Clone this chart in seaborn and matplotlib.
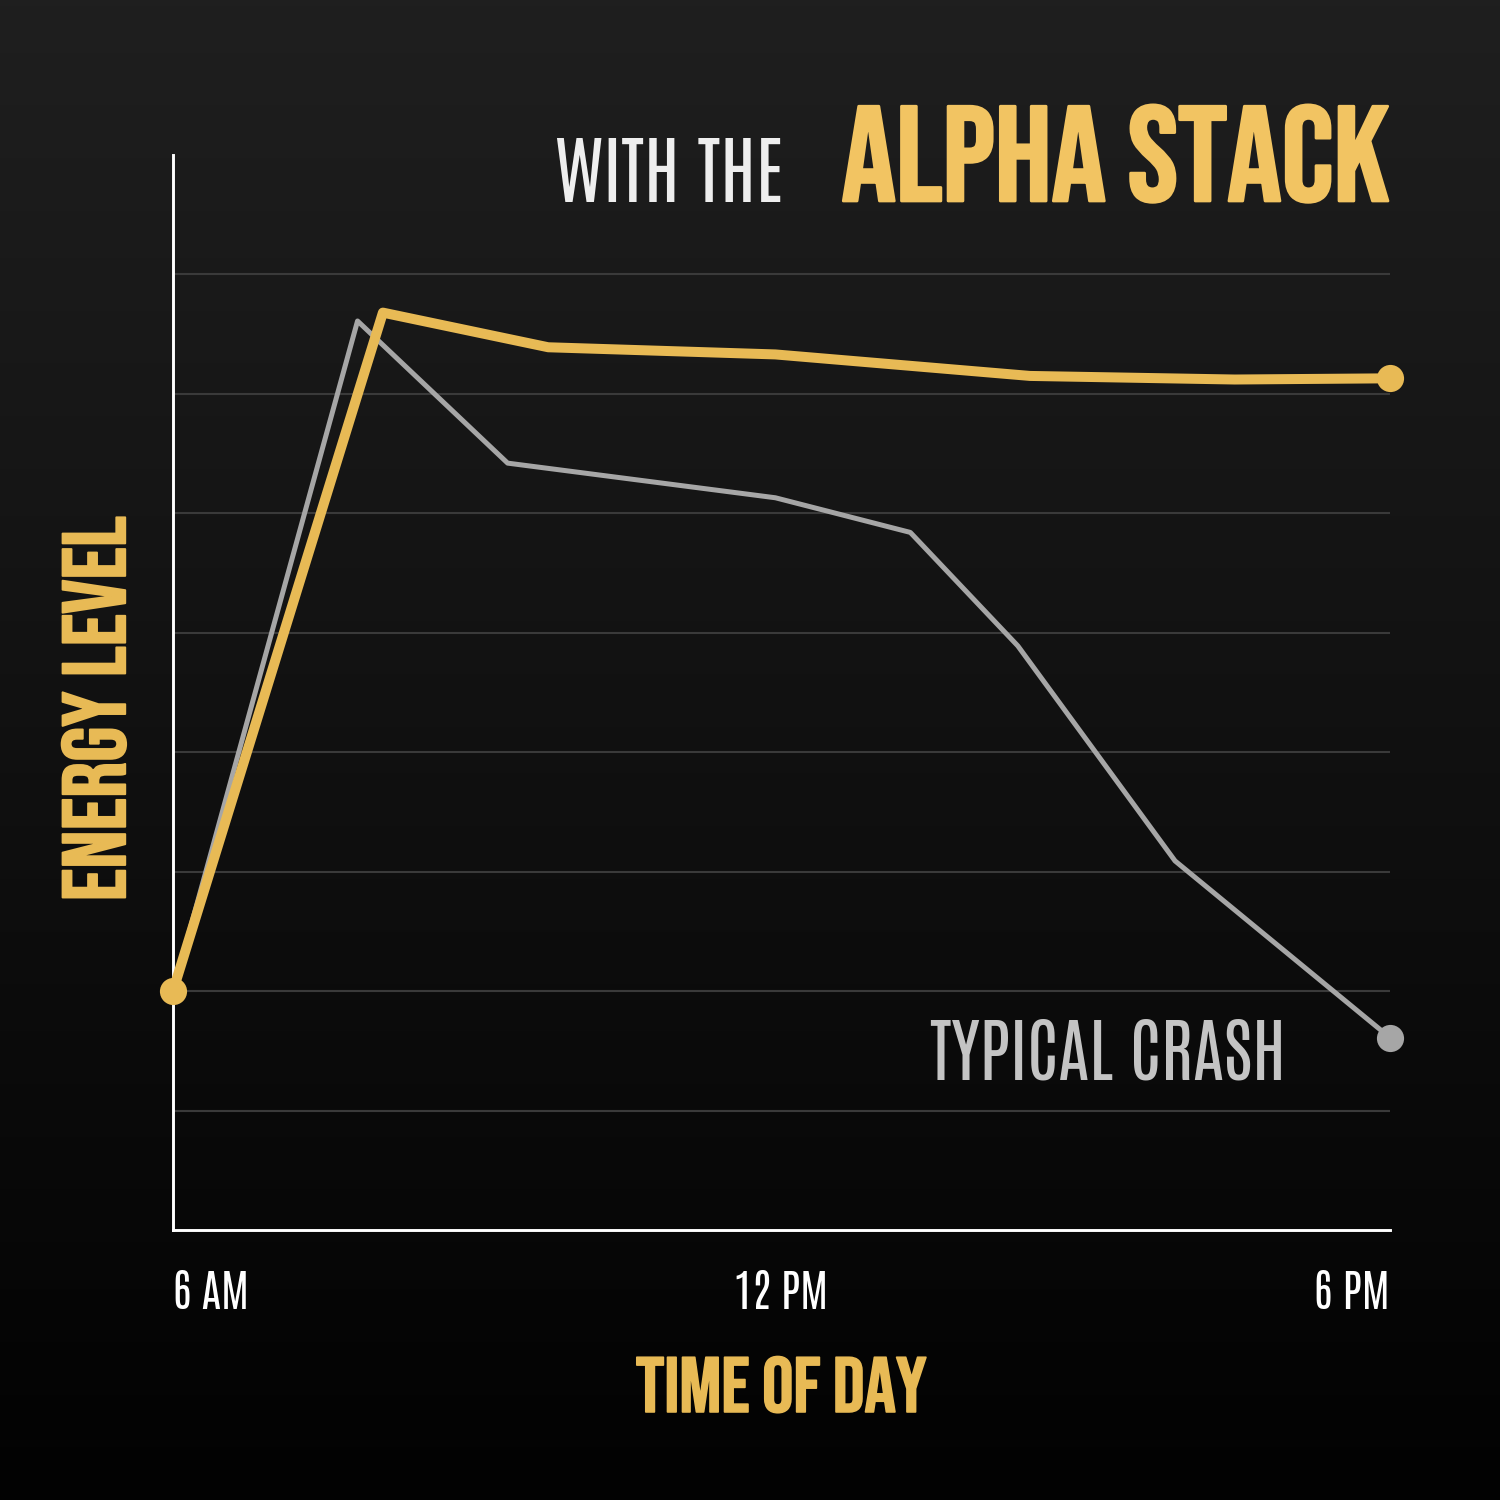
import numpy as np
import pandas as pd
import matplotlib
matplotlib.use("Agg")
import matplotlib.pyplot as plt
import matplotlib.patheffects as pe
from matplotlib.colors import LinearSegmentedColormap
import seaborn as sns

# ---- data ----
hours_alpha = [0.0, 2.07, 3.70, 5.94, 8.45, 10.47, 12.0]
energy_alpha = [2.0, 7.68, 7.39, 7.33, 7.15, 7.12, 7.13]
hours_crash = [0.0, 1.82, 3.30, 5.94, 7.27, 8.33, 9.88, 12.0]
energy_crash = [2.0, 7.61, 6.42, 6.13, 5.84, 4.89, 3.09, 1.61]
tick_pos = [0, 6, 12]
tick_labels = ["6 AM", "12 PM", "6 PM"]

GOLD = "#E8BA55"
GOLD_T = "#F2C462"
GRAY = "#A6A6A6"
BOLD = ["Bebas Neue", "Barlow Condensed", "DejaVu Sans"]
LIGHT = ["Antonio", "Barlow Condensed", "DejaVu Sans"]

sns.set_theme(style="dark")
plt.rcParams["font.family"] = ["Barlow Condensed", "DejaVu Sans"]

fig = plt.figure(figsize=(10, 10), dpi=150)

# gradient background
bg = fig.add_axes([0, 0, 1, 1], zorder=-5)
grad = np.linspace(0, 1, 256).reshape(-1, 1)
cmap = LinearSegmentedColormap.from_list("bg", ["#1f1f1f", "#020202"])
bg.imshow(grad, aspect="auto", cmap=cmap, extent=[0, 1, 0, 1], origin="upper")
bg.axis("off")

ax = fig.add_axes([0.1153, 0.18, 0.8114, 0.7167])
ax.patch.set_alpha(0)

df_a = pd.DataFrame({"hour": hours_alpha, "energy": energy_alpha})
df_c = pd.DataFrame({"hour": hours_crash, "energy": energy_crash})

sns.lineplot(data=df_c, x="hour", y="energy", ax=ax, color=GRAY, lw=2.4,
             zorder=3, clip_on=False)
sns.lineplot(data=df_a, x="hour", y="energy", ax=ax, color=GOLD, lw=4.8,
             zorder=4, clip_on=False)
sns.scatterplot(data=df_c.iloc[[-1]], x="hour", y="energy", ax=ax, color=GRAY,
                s=170, linewidth=0, zorder=5, clip_on=False)
sns.scatterplot(data=df_a.iloc[[0, -1]], x="hour", y="energy", ax=ax, color=GOLD,
                s=170, linewidth=0, zorder=6, clip_on=False)

ax.set_xlim(0, 12)
ax.set_ylim(0, 9)
ax.set_yticks(range(1, 9))
ax.set_yticklabels([])
ax.grid(axis="y", color="#3a3a3a", lw=1.0)
ax.grid(axis="x", visible=False)
ax.tick_params(axis="y", length=0)
ax.tick_params(axis="x", length=0, pad=19)
ax.set_xticks(tick_pos)
ax.set_xticklabels(tick_labels, color="white", fontsize=21, family=LIGHT)
labs = ax.get_xticklabels()
labs[0].set_ha("left")
labs[2].set_ha("right")
for s in ["top", "right"]:
    ax.spines[s].set_visible(False)
for s in ["left", "bottom"]:
    ax.spines[s].set_visible(True)
    ax.spines[s].set_color("white")
    ax.spines[s].set_linewidth(1.4)
ax.set_xlabel("")
ax.set_ylabel("")

# titles and labels
fig.text(0.926, 0.866, "ALPHA STACK", color=GOLD_T, fontsize=65, family=BOLD,
         ha="right", va="baseline",
         path_effects=[pe.withStroke(linewidth=1.3, foreground=GOLD_T)])
fig.text(0.522, 0.865, "WITH THE", color="#EEEEEE", fontsize=35.5, family=LIGHT,
         ha="right", va="baseline")
fig.text(0.857, 0.28, "TYPICAL CRASH", color="#C4C4C4", fontsize=33.5, family=LIGHT,
         ha="right", va="baseline")
fig.text(0.0625, 0.5275, "ENERGY LEVEL", color=GOLD, fontsize=43, family=BOLD,
         rotation=90, ha="center", va="center",
         path_effects=[pe.withStroke(linewidth=0.9, foreground=GOLD)])
fig.text(0.521, 0.0587, "TIME OF DAY", color=GOLD, fontsize=37.5, family=BOLD,
         ha="center", va="baseline",
         path_effects=[pe.withStroke(linewidth=0.8, foreground=GOLD)])

fig.savefig("out.png", dpi=150, facecolor="#0e0e0e")
